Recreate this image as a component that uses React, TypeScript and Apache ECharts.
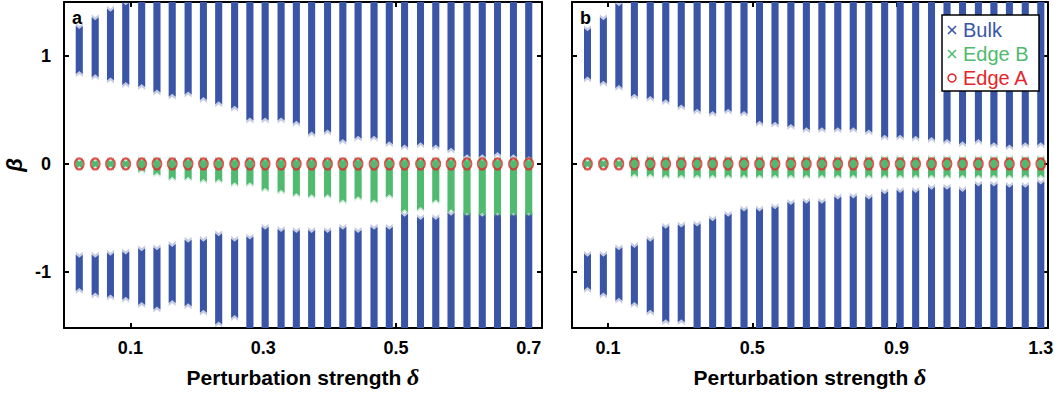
import React, { useEffect, useRef } from "react";
import * as echarts from "echarts";

const BLUE = "#3a55a6";
const GREEN = "#4fba70";
const RED = "#e3262b";

// ---- Panel a: perturbation strength up to 0.7 ----
const deltaA = [
  0.023, 0.047, 0.07, 0.093, 0.117, 0.14, 0.163, 0.187, 0.21, 0.233,
  0.257, 0.28, 0.303, 0.327, 0.35, 0.373, 0.397, 0.42, 0.443, 0.467,
  0.49, 0.513, 0.537, 0.56, 0.583, 0.607, 0.63, 0.653, 0.677, 0.7,
];
const bulkUpperTopA = [
  1.25, 1.33, 1.41, 1.47, 1.6, 1.6, 1.6, 1.6, 1.6, 1.6,
  1.6, 1.6, 1.6, 1.6, 1.6, 1.6, 1.6, 1.6, 1.6, 1.6,
  1.6, 1.6, 1.6, 1.6, 1.6, 1.6, 1.6, 1.6, 1.6, 1.6,
];
const bulkUpperEdgeA = [
  0.86, 0.83, 0.8, 0.76, 0.74, 0.69, 0.65, 0.67, 0.62, 0.58,
  0.54, 0.43, 0.43, 0.43, 0.4, 0.3, 0.32, 0.23, 0.26, 0.26,
  0.21, 0.18, 0.2, 0.18, 0.15, 0.09, 0.09, 0.11, 0.09, 0.07,
];
const bulkLowerEdgeA = [
  -0.87, -0.87, -0.85, -0.84, -0.81, -0.8, -0.77, -0.73, -0.72, -0.67,
  -0.72, -0.7, -0.61, -0.63, -0.64, -0.64, -0.64, -0.61, -0.64, -0.61,
  -0.61, -0.49, -0.52, -0.52, -0.48, -0.48, -0.49, -0.48, -0.48, -0.48,
];
const bulkLowerBottomA = [
  -1.15, -1.19, -1.21, -1.23, -1.28, -1.32, -1.26, -1.29, -1.35, -1.46,
  -1.4, -1.6, -1.6, -1.6, -1.6, -1.6, -1.6, -1.6, -1.6, -1.6,
  -1.6, -1.6, -1.6, -1.6, -1.6, -1.6, -1.6, -1.6, -1.6, -1.6,
];
const edgeBTopA = [
  0.02, 0.02, 0.02, 0.02, 0.03, 0.03, 0.03, 0.03, 0.03, 0.03,
  0.03, 0.03, 0.03, 0.03, 0.03, 0.03, 0.03, 0.03, 0.03, 0.03,
  0.03, 0.03, 0.03, 0.03, 0.03, 0.03, 0.03, 0.03, 0.03, 0.03,
];
const edgeBBottomA = [
  -0.02, -0.02, -0.02, -0.02, -0.05, -0.08, -0.12, -0.12, -0.14, -0.14,
  -0.17, -0.17, -0.22, -0.24, -0.27, -0.28, -0.28, -0.33, -0.3, -0.33,
  -0.28, -0.42, -0.4, -0.33, -0.42, -0.45, -0.45, -0.45, -0.45, -0.45,
];
const edgeAA = [
  0, 0, 0, 0, 0, 0, 0, 0, 0, 0,
  0, 0, 0, 0, 0, 0, 0, 0, 0, 0,
  0, 0, 0, 0, 0, 0, 0, 0, 0, 0,
];

// ---- Panel b: perturbation strength up to 1.3 ----
const deltaB = [
  0.043, 0.087, 0.13, 0.173, 0.217, 0.26, 0.303, 0.347, 0.39, 0.433,
  0.477, 0.52, 0.563, 0.607, 0.65, 0.693, 0.737, 0.78, 0.823, 0.867,
  0.91, 0.953, 0.997, 1.04, 1.083, 1.127, 1.17, 1.213, 1.257, 1.3,
];
const bulkUpperTopB = [
  1.23, 1.33, 1.46, 1.6, 1.6, 1.6, 1.6, 1.6, 1.6, 1.6,
  1.6, 1.6, 1.6, 1.6, 1.6, 1.6, 1.6, 1.6, 1.6, 1.6,
  1.6, 1.6, 1.6, 1.6, 1.6, 1.6, 1.6, 1.6, 1.6, 1.6,
];
const bulkUpperEdgeB = [
  0.81, 0.77, 0.73, 0.65, 0.63, 0.6, 0.55, 0.51, 0.49, 0.51,
  0.49, 0.4, 0.39, 0.37, 0.34, 0.34, 0.34, 0.34, 0.32, 0.27,
  0.27, 0.26, 0.25, 0.23, 0.21, 0.23, 0.2, 0.18, 0.2, 0.2,
];
const bulkLowerEdgeB = [
  -0.86, -0.86, -0.8, -0.78, -0.72, -0.6, -0.59, -0.58, -0.53, -0.49,
  -0.44, -0.44, -0.42, -0.38, -0.37, -0.37, -0.33, -0.32, -0.33, -0.28,
  -0.27, -0.27, -0.24, -0.24, -0.26, -0.21, -0.21, -0.22, -0.22, -0.19,
];
const bulkLowerBottomB = [
  -1.14, -1.19, -1.24, -1.28, -1.35, -1.44, -1.44, -1.6, -1.6, -1.6,
  -1.6, -1.6, -1.6, -1.6, -1.6, -1.6, -1.6, -1.6, -1.6, -1.6,
  -1.6, -1.6, -1.6, -1.6, -1.6, -1.6, -1.6, -1.6, -1.6, -1.6,
];
const edgeBTopB = [
  0.02, 0.02, 0.02, 0.04, 0.04, 0.04, 0.04, 0.04, 0.04, 0.04,
  0.04, 0.04, 0.04, 0.04, 0.04, 0.04, 0.04, 0.04, 0.04, 0.04,
  0.04, 0.04, 0.04, 0.04, 0.04, 0.04, 0.04, 0.04, 0.04, 0.04,
];
const edgeBBottomB = [
  -0.02, -0.02, -0.02, -0.09, -0.09, -0.1, -0.1, -0.1, -0.1, -0.1,
  -0.1, -0.1, -0.1, -0.1, -0.1, -0.1, -0.1, -0.1, -0.1, -0.1,
  -0.1, -0.1, -0.1, -0.1, -0.1, -0.1, -0.1, -0.1, -0.1, -0.1,
];
const edgeAB = [
  0, 0, 0, 0, 0, 0, 0, 0, 0, 0,
  0, 0, 0, 0, 0, 0, 0, 0, 0, 0,
  0, 0, 0, 0, 0, 0, 0, 0, 0, 0,
];

const xTicksA = [0.1, 0.3, 0.5, 0.7];
const xTicksB = [0.1, 0.5, 0.9, 1.3];
const yTicks = [-1, 0, 1];

const SANS = "'Liberation Sans', Arial, sans-serif";
const SERIF = "'Liberation Serif', 'Times New Roman', serif";

// A stack of eigenvalues for one δ drawn as a narrow band whose ends carry
// the swallow-tail notch left by the overlapping "×" markers, with a faint
// fringe where the sparser markers thin out.
const bandRenderer = (color: string, width: number, notch: number, fringe: number) =>
  (_params: any, api: any) => {
    const x = api.value(0);
    const pLo = api.coord([x, api.value(1)]);
    const pHi = api.coord([x, api.value(2)]);
    const cx = pLo[0];
    const h = width / 2;
    const yT = pHi[1];
    const yB = pLo[1];
    const shape = (t: number, b: number) => ({
      points: [
        [cx - h, t - notch],
        [cx, t],
        [cx + h, t - notch],
        [cx + h, b + notch],
        [cx, b],
        [cx - h, b + notch],
      ],
    });
    return {
      type: "group",
      children: [
        {
          type: "polygon",
          shape: shape(yT - fringe, yB + fringe),
          style: { fill: color, opacity: 0.3 },
        },
        {
          type: "polygon",
          shape: shape(yT, yB),
          style: { fill: color },
        },
      ],
    };
  };

function panelSeries(
  idx: number,
  delta: number[],
  upTop: number[],
  upEdge: number[],
  lowEdge: number[],
  lowBottom: number[],
  bTop: number[],
  bBottom: number[],
  edgeA: number[]
) {
  const axisRef = { xAxisIndex: idx * 2, yAxisIndex: idx * 2 };
  const bulk: number[][] = [];
  delta.forEach((d, i) => {
    bulk.push([d, upEdge[i], upTop[i]]);
    bulk.push([d, lowBottom[i], lowEdge[i]]);
  });
  const edgeB = delta.map((d, i) => [d, bBottom[i], bTop[i]]);
  const edgeAPts = delta.map((d, i) => [d, edgeA[i]]);
  return [
    {
      name: "Bulk",
      type: "custom",
      ...axisRef,
      clip: true,
      renderItem: bandRenderer(BLUE, 7, 3, 3),
      encode: { x: 0, y: [1, 2] },
      itemStyle: { color: BLUE },
      data: bulk,
    },
    {
      name: "Edge B",
      type: "custom",
      ...axisRef,
      clip: true,
      renderItem: bandRenderer(GREEN, 7, 3, 2),
      encode: { x: 0, y: [1, 2] },
      itemStyle: { color: GREEN },
      data: edgeB,
    },
    {
      name: "Edge A",
      type: "scatter",
      ...axisRef,
      symbol: "circle",
      symbolSize: [9, 11],
      itemStyle: { color: "rgba(0,0,0,0)", borderColor: RED, borderWidth: 2 },
      data: edgeAPts,
    },
  ];
}

const axisCommon = {
  type: "value" as const,
  splitLine: { show: false },
  axisLine: { show: true, onZero: false, lineStyle: { color: "#000", width: 2 } },
};

function xAxesFor(grid: number, min: number, max: number, ticks: number[]) {
  const tick = {
    show: true,
    inside: true,
    length: 5,
    lineStyle: { color: "#000", width: 2 },
    customValues: ticks,
  };
  return [
    {
      ...axisCommon,
      gridIndex: grid,
      position: "bottom",
      min,
      max,
      axisTick: tick,
      axisLabel: {
        show: true,
        customValues: ticks,
        margin: 11,
        fontFamily: SANS,
        fontWeight: "bold",
        fontSize: 18,
        color: "#000",
      },
      name: "{t|Perturbation strength }{d|δ}",
      nameLocation: "middle",
      nameGap: 37,
      nameTextStyle: {
        rich: {
          t: { fontFamily: SANS, fontWeight: "bold", fontSize: 21, color: "#000" },
          d: { fontFamily: SERIF, fontStyle: "italic", fontWeight: "bold", fontSize: 24, color: "#000" },
        },
      },
    },
    {
      ...axisCommon,
      gridIndex: grid,
      position: "top",
      min,
      max,
      axisTick: tick,
      axisLabel: { show: false },
    },
  ];
}

function yAxesFor(grid: number, withName: boolean) {
  const tick = {
    show: true,
    inside: true,
    length: 5,
    lineStyle: { color: "#000", width: 2 },
    customValues: yTicks,
  };
  return [
    {
      ...axisCommon,
      gridIndex: grid,
      position: "left",
      min: -1.52,
      max: 1.5,
      axisTick: tick,
      axisLabel: {
        show: withName,
        customValues: yTicks,
        margin: 13,
        fontFamily: SANS,
        fontWeight: "bold",
        fontSize: 18,
        color: "#000",
      },
      name: withName ? "β" : "",
      nameLocation: "middle",
      nameGap: 40,
      nameTextStyle: {
        fontFamily: SANS,
        fontStyle: "italic",
        fontWeight: "bold",
        fontSize: 22,
        lineHeight: 20,
        color: "#000",
      },
    },
    {
      ...axisCommon,
      gridIndex: grid,
      position: "right",
      min: -1.52,
      max: 1.5,
      axisTick: tick,
      axisLabel: { show: false },
    },
  ];
}

const legendItems = [
  { label: "Bulk", color: BLUE, mark: "x" },
  { label: "Edge B", color: GREEN, mark: "x" },
  { label: "Edge A", color: RED, mark: "o" },
];

function legendGraphic() {
  const left = 942;
  const top = 15;
  const Z = 100;
  const children: any[] = [
    {
      type: "rect",
      z: Z,
      shape: { x: left, y: top, width: 97, height: 76 },
      style: { fill: "#fff", stroke: "#000", lineWidth: 1.5 },
    },
  ];
  legendItems.forEach((it, i) => {
    const cy = top + 15 + i * 24;
    const mx = left + 10;
    if (it.mark === "x") {
      children.push(
        { type: "line", z: Z + 1, shape: { x1: mx - 4, y1: cy - 4, x2: mx + 4, y2: cy + 4 }, style: { stroke: it.color, lineWidth: 1.6 } },
        { type: "line", z: Z + 1, shape: { x1: mx - 4, y1: cy + 4, x2: mx + 4, y2: cy - 4 }, style: { stroke: it.color, lineWidth: 1.6 } }
      );
    } else {
      children.push({
        type: "circle",
        z: Z + 1,
        shape: { cx: mx, cy, r: 4 },
        style: { fill: "none", stroke: it.color, lineWidth: 1.5 },
      });
    }
    children.push({
      type: "text",
      z: Z + 1,
      x: left + 21,
      y: cy,
      style: {
        text: it.label,
        fill: it.color,
        font: `20px ${SANS}`,
        verticalAlign: "middle",
        align: "left",
      },
    });
  });
  return children;
}

export default function App() {
  const ref = useRef<HTMLDivElement>(null);
  useEffect(() => {
    if (!ref.current) return;
    const chart = echarts.init(ref.current, undefined, { renderer: "svg" });
    chart.setOption({
      animation: false,
      backgroundColor: "#fff",
      grid: [
        { left: 64, top: 2, width: 478, height: 326, outerBoundsMode: "none", containLabel: false },
        { left: 572, top: 2, width: 476, height: 326, outerBoundsMode: "none", containLabel: false },
      ],
      xAxis: [...xAxesFor(0, 0, 0.72, xTicksA), ...xAxesFor(1, 0, 1.32, xTicksB)],
      yAxis: [...yAxesFor(0, true), ...yAxesFor(1, false)],
      series: [
        ...panelSeries(0, deltaA, bulkUpperTopA, bulkUpperEdgeA, bulkLowerEdgeA, bulkLowerBottomA, edgeBTopA, edgeBBottomA, edgeAA),
        ...panelSeries(1, deltaB, bulkUpperTopB, bulkUpperEdgeB, bulkLowerEdgeB, bulkLowerBottomB, edgeBTopB, edgeBBottomB, edgeAB),
      ],
      graphic: [
        {
          type: "text",
          x: 72,
          y: 9,
          z: 100,
          style: { text: "a", font: `bold 18px ${SANS}`, fill: "#000" },
        },
        {
          type: "text",
          x: 580,
          y: 9,
          z: 100,
          style: { text: "b", font: `bold 18px ${SANS}`, fill: "#000" },
        },
        ...legendGraphic(),
      ],
    });
    return () => chart.dispose();
  }, []);
  return (
    <div
      ref={ref}
      style={{ position: "fixed", left: 0, top: 0, width: 1054, height: 396, background: "#fff" }}
    />
  );
}
